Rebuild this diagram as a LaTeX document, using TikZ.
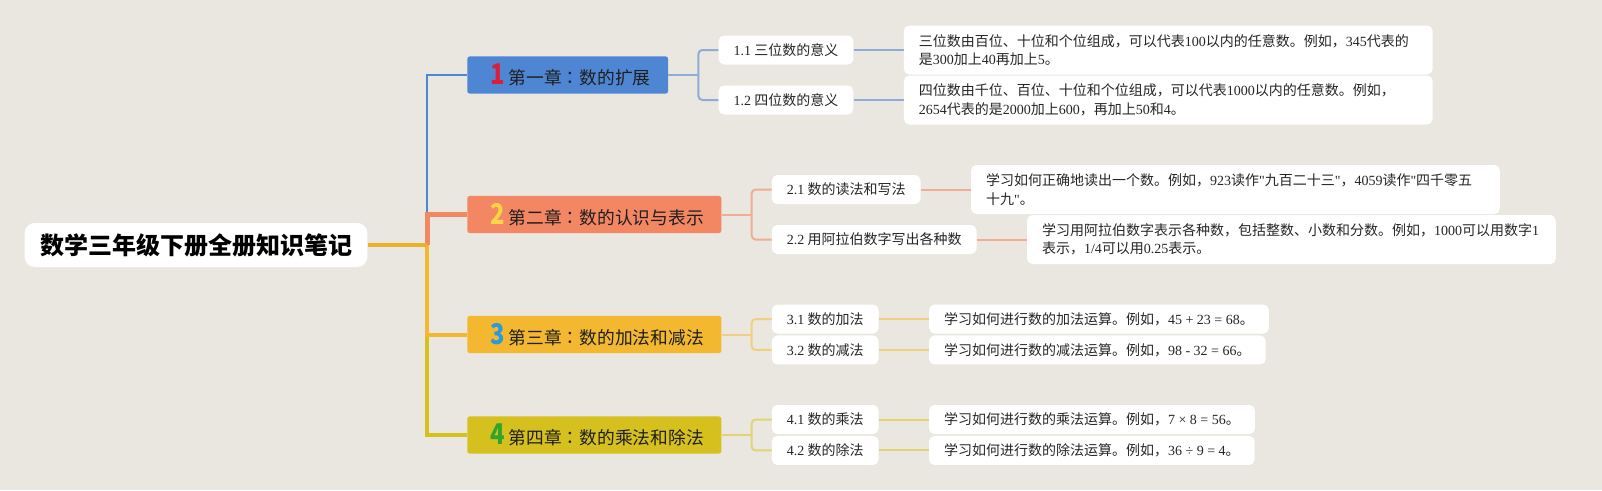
\documentclass[tikz,border=0pt]{standalone}
\usepackage{fontspec}
\setmainfont{Liberation Serif}
\newfontfamily\cjk{Noto Sans CJK SC}
\newfontfamily\cjktc{Noto Sans CJK TC}
\newfontfamily\latfont{Liberation Serif}
\newcommand{\lat}[1]{{\latfont #1}}
\newcommand{\cjkcolon}{{\cjktc ：}}
\newcommand{\chapno}[2]{\hspace*{4pt}{\color{#1}\fontsize{21pt}{21pt}\bfseries\selectfont\scalebox{0.85}[1.02]{#2}}\hspace{3pt}}
\usetikzlibrary{positioning}
\definecolor{bgcol}{RGB}{233,231,223}
\definecolor{col1}{RGB}{79,134,211}
\definecolor{col2}{RGB}{243,134,99}
\definecolor{col3}{RGB}{243,184,48}
\definecolor{col4}{RGB}{213,192,30}
\definecolor{sub1}{RGB}{143,172,216}
\definecolor{sub2}{RGB}{240,172,148}
\definecolor{sub3}{RGB}{240,208,125}
\definecolor{sub4}{RGB}{226,212,115}
\definecolor{rootline}{RGB}{232,178,42}
\definecolor{no1}{RGB}{217,31,58}
\definecolor{no2}{RGB}{249,213,72}
\definecolor{no3}{RGB}{44,154,216}
\definecolor{no4}{RGB}{47,165,42}
\tikzset{
  rootbox/.style={fill=white, rounded corners=7.5pt, inner xsep=11.5pt, minimum height=33pt,
    font=\cjk\bfseries\fontsize{18pt}{20pt}\selectfont, text=black},
  chapbox/.style={rounded corners=2pt, inner xsep=13.2pt, minimum height=28pt, anchor=west,
    font=\cjk\fontsize{13.3pt}{15pt}\selectfont, text=black!88},
  subbox/.style={fill=white, rounded corners=4pt, inner xsep=11.25pt, minimum height=21.75pt, anchor=west,
    font=\cjk\fontsize{10.5pt}{13.8pt}\selectfont, text=black!85},
  infobox/.style={subbox, align=left},
  infotwo/.style={infobox, text width=374pt, minimum height=36.75pt},
  subline/.style={line width=1.5pt, rounded corners=3pt},
}
\begin{document}
\begin{tikzpicture}[x=0.75pt, y=-0.75pt]
  \fill[bgcol] (0,0) rectangle (1602,490);
  \useasboundingbox (0,0) rectangle (1602,490);

  % root and chapters
  \node[rootbox] (root) at (196,245) {数学三年级下册全册知识笔记};
  \node[chapbox, fill=col1] (ch1) at (467,75) {\chapno{no1}{1}第一章\cjkcolon 数的扩展};
  \node[chapbox, fill=col2] (ch2) at (467,214.5) {\chapno{no2}{2}第二章\cjkcolon 数的认识与表示};
  \node[chapbox, fill=col3] (ch3) at (467,334.5) {\chapno{no3}{3}第三章\cjkcolon 数的加法和减法};
  \node[chapbox, fill=col4] (ch4) at (467,435) {\chapno{no4}{4}第四章\cjkcolon 数的乘法和除法};

  % topics
  \node[subbox] (s11) at ([shift={(37.5pt,18.75pt)}]ch1.east) {\lat{1.1} 三位数的意义};
  \node[subbox] (s12) at ([shift={(37.5pt,-18.75pt)}]ch1.east) {\lat{1.2} 四位数的意义};
  \node[subbox] (s21) at ([shift={(37.5pt,18.75pt)}]ch2.east) {\lat{2.1} 数的读法和写法};
  \node[subbox] (s22) at ([shift={(37.5pt,-18.75pt)}]ch2.east) {\lat{2.2} 用阿拉伯数字写出各种数};
  \node[subbox] (s31) at ([shift={(37.5pt,11.6pt)}]ch3.east) {\lat{3.1} 数的加法};
  \node[subbox] (s32) at ([shift={(37.5pt,-11.6pt)}]ch3.east) {\lat{3.2} 数的减法};
  \node[subbox] (s41) at ([shift={(37.5pt,11.6pt)}]ch4.east) {\lat{4.1} 数的乘法};
  \node[subbox] (s42) at ([shift={(37.5pt,-11.6pt)}]ch4.east) {\lat{4.2} 数的除法};

  % notes
  \node[infotwo, right=37.5pt of s11] (d11) {三位数由百位、十位和个位组成，可以代表\lat{100}以内的任意数。例如，\lat{345}代表的\\是\lat{300}加上\lat{40}再加上\lat{5}。};
  \node[infotwo, right=37.5pt of s12] (d12) {四位数由千位、百位、十位和个位组成，可以代表\lat{1000}以内的任意数。例如，\\\lat{2654}代表的是\lat{2000}加上\lat{600}，再加上\lat{50}和\lat{4}。};
  \node[infotwo, right=37.5pt of s21] (d21) {学习如何正确地读出一个数。例如，\lat{923}读作\lat{"}九百二十三\lat{"}，\lat{4059}读作\lat{"}四千零五\\十九\lat{"}。};
  \node[infotwo, right=37.5pt of s22] (d22) {学习用阿拉伯数字表示各种数，包括整数、小数和分数。例如，\lat{1000}可以用数字\lat{1}\\表示，\lat{1/4}可以用\lat{0.25}表示。};
  \node[infobox, right=37.5pt of s31] (d31) {学习如何进行数的加法运算。例如，\lat{45 + 23 = 68}。};
  \node[infobox, right=37.5pt of s32] (d32) {学习如何进行数的减法运算。例如，\lat{98 - 32 = 66}。};
  \node[infobox, right=37.5pt of s41] (d41) {学习如何进行数的乘法运算。例如，\lat{7 × 8 = 56}。};
  \node[infobox, right=37.5pt of s42] (d42) {学习如何进行数的除法运算。例如，\lat{36 ÷ 9 = 4}。};

  % main branches
  \coordinate (hub) at (427,245);
  \draw[line width=1.5pt, col1] (hub) |- (ch1.west);
  \draw[line width=3.75pt, col2] (hub) |- (ch2.west);
  \draw[line width=3pt, col4] (hub) |- (ch4.west);
  \draw[line width=3pt, col3] (hub) |- (ch3.west);
  \draw[line width=3.4pt, rootline] (root.east) -- (hub);

  % topic branches
  \foreach \n in {1,2,3,4}{
    \draw[subline, sub\n] (ch\n.east) -- ++(22.5pt,0) coordinate (k\n);
    \draw[subline, sub\n] (k\n) |- (s\n1.west);
    \draw[subline, sub\n] (k\n) |- (s\n2.west);
    \draw[subline, sub\n] (s\n1.east) -- (d\n1.west);
    \draw[subline, sub\n] (s\n2.east) -- (d\n2.west);
  }
\end{tikzpicture}
\end{document}
